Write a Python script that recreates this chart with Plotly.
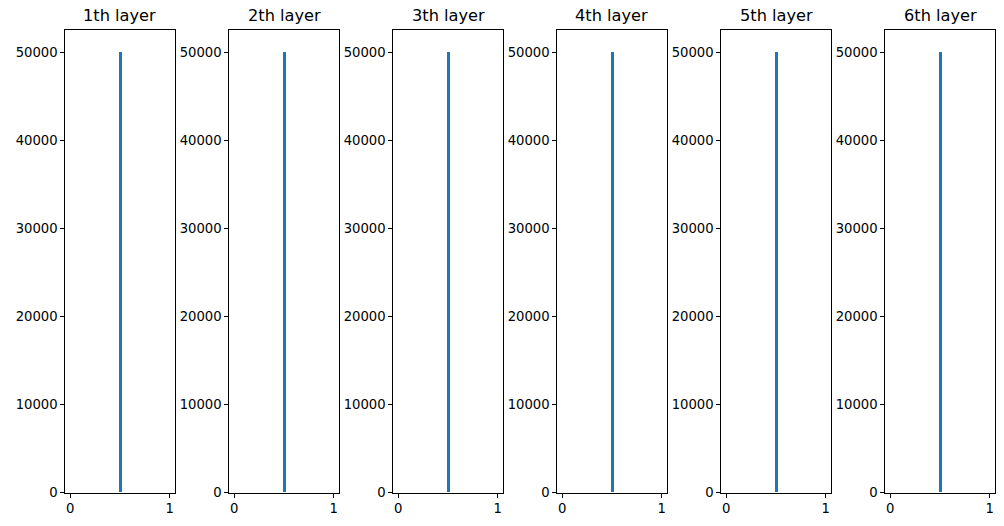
import plotly.graph_objects as go

# Data: each layer's histogram (50 bins over [0, 1]); all activations fall in one bin
titles = ["1th layer", "2th layer", "3th layer", "4th layer", "5th layer", "6th layer"]
bin_left = [0.50]
bin_width = 0.02
counts_layer1 = [50000]
counts_layer2 = [50000]
counts_layer3 = [50000]
counts_layer4 = [50000]
counts_layer5 = [50000]
counts_layer6 = [50000]
all_counts = [counts_layer1, counts_layer2, counts_layer3,
              counts_layer4, counts_layer5, counts_layer6]
y_ticks = [0, 10000, 20000, 30000, 40000, 50000]
x_ticks = [0, 1]

W, H = 1004, 526
HF = 518.0  # effective vertical extent used for domain fractions
left0, pw, step = 65.3, 109.4, 164.0
top, bottom = 30.3, 492.5

fig = go.Figure()
font = dict(family="DejaVu Sans", size=13.2, color="black")
for i, (t, c) in enumerate(zip(titles, all_counts)):
    n = "" if i == 0 else str(i + 1)
    fig.add_trace(go.Bar(
        x=[b + bin_width / 2 for b in bin_left], y=c, width=bin_width,
        marker=dict(color="#1f77b4", line=dict(width=0)),
        xaxis="x" + n, yaxis="y" + n, showlegend=False))
    x0 = (left0 + step * i) / W
    x1 = (left0 + step * i + pw) / W
    ax = dict(domain=[x0, x1], range=[-0.05, 1.05], tickvals=x_ticks,
              ticktext=[str(v) for v in x_ticks],
              showline=True, linecolor="black", linewidth=1, mirror=True,
              ticks="outside", ticklen=4, tickcolor="black", tickwidth=1,
              showgrid=False, zeroline=False, tickfont=font,
              anchor="y" + n, fixedrange=True)
    ay = dict(domain=[1 - bottom / HF, 1 - top / HF], range=[0, 52500],
              tickvals=y_ticks, ticktext=[str(v) for v in y_ticks],
              showline=True, linecolor="black", linewidth=1, mirror=True,
              ticks="outside", ticklen=4, tickcolor="black", tickwidth=1,
              showgrid=False, zeroline=False, tickfont=font,
              anchor="x" + n, fixedrange=True)
    fig.update_layout(**{"xaxis" + n: ax, "yaxis" + n: ay})
    fig.add_annotation(x=(x0 + x1) / 2, y=1 - (top - 3) / HF, xref="paper", yref="paper",
                       text=t, showarrow=False, xanchor="center", yanchor="bottom",
                       font=dict(family="DejaVu Sans", size=16.2, color="black"))

fig.update_layout(width=W, height=H, margin=dict(l=0, r=0, t=0, b=0),
                  plot_bgcolor="white", paper_bgcolor="white", bargap=0)
fig.write_html("out.html", config={"displayModeBar": False},
               post_script="document.body.style.margin='0';document.body.style.overflow='hidden';")
